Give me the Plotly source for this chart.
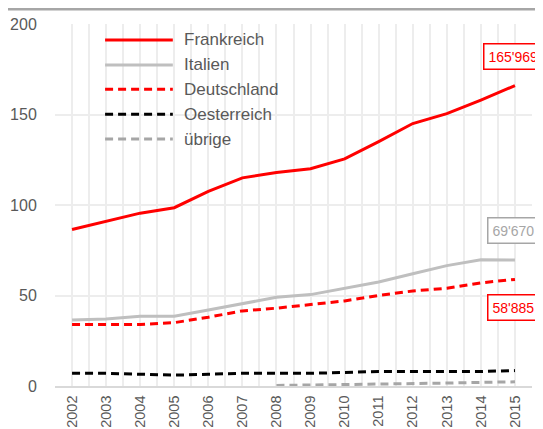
import plotly.graph_objects as go

# Daten (in Tausend)
jahre = list(range(2002, 2016))
frankreich = [86.5, 91.0, 95.5, 98.5, 107.5, 115.0, 118.0, 120.0, 125.5, 135.0, 145.0, 150.5, 158.0, 165.969]
italien = [36.5, 37.0, 38.5, 38.5, 42.0, 45.5, 49.0, 50.5, 54.0, 57.5, 62.0, 66.5, 69.7, 69.670]
deutschland = [34.0, 34.0, 34.0, 35.0, 38.0, 41.5, 43.0, 45.0, 47.0, 50.0, 52.5, 54.0, 57.0, 58.885]
oesterreich = [7.0, 7.0, 6.5, 6.0, 6.5, 7.0, 7.0, 7.0, 7.5, 8.0, 8.0, 8.0, 8.0, 8.5]
uebrige = [None, None, None, None, None, None, 0.3, 0.5, 0.8, 1.0, 1.3, 1.6, 2.0, 2.3]

serien = [
    ("Frankreich", frankreich, "#FF0000", "solid"),
    ("Italien", italien, "#BFBFBF", "solid"),
    ("Deutschland", deutschland, "#FF0000", "8px,5px"),
    ("Oesterreich", oesterreich, "#000000", "8px,5px"),
    ("übrige", uebrige, "#A6A6A6", "8px,5px"),
]

# Beschriftung der Endwerte
end_labels = [
    ("Frankreich", frankreich[-1], "#FF0000", 29),
    ("Italien", italien[-1], "#A6A6A6", 29),
    ("Deutschland", deutschland[-1], "#FF0000", -28),
]

FONT = "Liberation Sans, Arial, sans-serif"
GRAU = "#595959"

fig = go.Figure()
for name, werte, farbe, dash in serien:
    fig.add_trace(go.Scatter(
        x=jahre, y=werte, name=name, mode="lines",
        line=dict(color=farbe, width=3, dash=dash),
        showlegend=False,
    ))

def fmt(v):
    return f"{int(round(v * 1000)):,}".replace(",", "'")

for name, wert, farbe, shift in end_labels:
    fig.add_annotation(
        x=jahre[-1], y=wert, xref="x", yref="y", text=fmt(wert),
        showarrow=False, yshift=shift, xshift=-1,
        font=dict(family=FONT, size=14, color=farbe),
        bordercolor=farbe, borderwidth=1.5, borderpad=4,
        bgcolor="white",
    )

# eigene Legende
leg_y = [0.956, 0.887, 0.820, 0.751, 0.682]
for (name, werte, farbe, dash), yy in zip(serien, leg_y):
    fig.add_shape(
        type="line", xref="paper", yref="paper",
        x0=0.105, x1=0.247, y0=yy, y1=yy,
        line=dict(color=farbe, width=3, dash=dash),
    )
    fig.add_annotation(
        x=0.266, y=yy, xref="paper", yref="paper", text=name,
        showarrow=False, xanchor="left", yanchor="middle",
        font=dict(family=FONT, size=17, color=GRAU),
    )

# graue Linie oben
fig.add_shape(
    type="line", xref="paper", yref="paper",
    x0=-0.1, x1=1.03, y0=1.041, y1=1.041,
    line=dict(color="#A6A6A6", width=2.5),
)

fig.update_layout(
    width=535, height=421,
    margin=dict(l=47, r=11, t=16, b=43),
    paper_bgcolor="white", plot_bgcolor="white",
    font=dict(family=FONT, color=GRAU),
    xaxis=dict(
        range=[2001.5, 2015.5], tick0=2002, dtick=1,
        tickangle=-90, tickfont=dict(size=14.5, color=GRAU),
        showgrid=True, gridcolor="#EDEDED", gridwidth=1.5,
        minor=dict(dtick=0.5, tick0=2001.5, showgrid=True, gridcolor="#EDEDED", gridwidth=1.5),
        showline=True, linecolor="#D9D9D9", linewidth=1.5,
        ticks="outside", ticklen=2, tickcolor="rgba(0,0,0,0)",
        zeroline=False, automargin=False,
    ),
    yaxis=dict(
        range=[0, 200], dtick=50,
        tickfont=dict(size=16, color=GRAU),
        showgrid=True, gridcolor="#EDEDED", gridwidth=1.5,
        ticks="outside", ticklen=14, tickcolor="rgba(0,0,0,0)",
        zeroline=False, automargin=False,
    ),
)

fig.write_html("out.html")
